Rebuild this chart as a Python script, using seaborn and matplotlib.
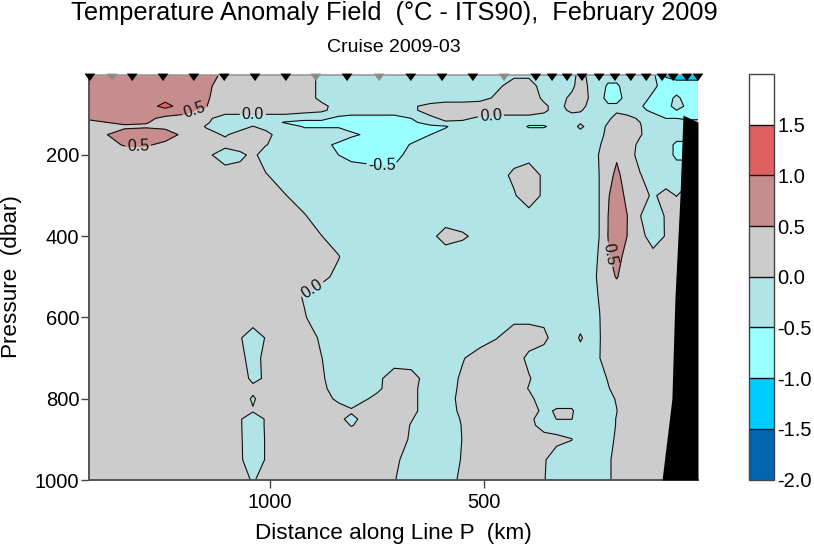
import matplotlib
matplotlib.use("Agg")
import matplotlib.pyplot as plt
import numpy as np
import pandas as pd
import seaborn as sns

distance_km = [1425,1380,1340,1290,1245,1200,1150,1105,1070,1040,
               1010,965,920,880,840,810,750,710,670,625,
               590,550,510,470,430,395,360,330,295,275,
               250,230,210,190,165,135,105,75,50,25,0]
pressure_dbar = [2,30,60,80,90,110,120,130,150,175,200,250,300,350,400,450,500,550,600,650,700,750,775,800,830,850,865,900,950,1000]

p002 = [7,7,7,7,7,7,7,4,2,2, 2,2,2,-1,-2,-2,-2,-2,-2,-2, -2,-2,-2,-2,-1,-1,-1,-2,-1,1, -1,-2,-2,-2,-2,-2,-4,-11,-12,-12,-12]
p030 = [7,7,7,7,7,7,7,1,2,2, 2,2,2,-1,-2,-2,-2,-2,-2,-2, -2,-2,-2,-1,2,2,-2,-2,-1,2, -1,-2,-6,-6,-2,-2,-4,-7,-8,-8,-8]
p060 = [7,7,7,7,8,7,6,1,2,2, 2,2,2,-1,-2,-2,-2,-2,-2,-2, -2,-2,-2,1,3,3,-1,-2,1,3, -1,-3,-7,-7,-3,-3,-6,-7,-4,-7,-7]
p080 = [7,7,7,7,12,7,5.2,2,2,2, 2,2,2,1,-1.5,-2,-2,-2,-0.5,1, 2,2,3,3,3,3,1,-2,2,2, -2,-2,-4,-4,-3,-4.5,-7,-7,-3,-6,-7]
p090 = [7,7,7,7,8,6,4,2,2,2, 2,2,2,1,-2,-2,-2,-2,-1,2, 3,3,3,3,3,3,1,-2,1,0.5, -2,-2,-3,-1,-3,-4,-6,-7,-5,-6,-6]
p110 = [5.5,6,6.5,6,4,4,1,-2,-2,-2, -2,-2,-4,-4,-6,-7,-7,-7,-5,-1, 1,1,-1,-2,-2,-2,-2,-2,-2,-2, -2,-2,-1,2,2,-1,-3,-5,-5,-6,-6]
p120 = [4,5,5.5,5.2,4,3,0.5,-2,-2,-1, -2,-5.5,-6,-6,-6,-7,-8,-8,-6,-3, -0.5,-1,-2,-2,-2,-3.5,-3.5,-2,-2,-0.5, -2,-2,0,3,3,0,-3,-3,-3,-3,-3]
p130 = [3,4,4.6,4.6,4,3,-0.2,-2,-1,0.1, -1,-2,-5.5,-5.5,-5.5,-7,-8,-8,-7,-6, -5.5,-2,-2,-2,-2,-5.5,-5.5,-3,-2,1, -2,-2,1,3,3,0.2,-2,-2,-2,-2,-2]
p150 = [2,5,6,7,7,4,1,-0.3,1,2, 1,-2,-2,-2,-2,-4,-7,-8,-7,-5, -3,-2,-2,-2,-2,-2,-2,-2,-2,-2, -2,-1,1,3,3,0.3,-2,-2,-3,-3,-3]
p175 = [2,3.5,5.4,5.5,4,2,2,1,2,2, 0.2,-2,-2,-3.5,-6,-8,-8,-7,-4.7,-2, -2,-2,-2,-2,-2,-2,-2,-2,-2,-2, -2,-0.3,2,3,2,-1,-2,-3,-6,-6,-3]
p200 = [2,2,2,2,2,2,1,-2,-1,1, -2,-2,-2,-2,-5,-6,-7,-7,-3,-2, -2,-2,-2,-2,-2,-2,-2,-2,-2,-2, -2,0.3,2,4.4,2,-1.5,-2,-3,-6,-6,-3]
p250 = [2,2,2,2,2,2,2,2,2,2, 0.3,-2,-2,-2,-2,-3,-3,-3,-2,-2, -2,-2,-2,-2,1,3,-1,-2,-2,-2, -2,0.1,3.5,6,3,0.2,-2,-2,-2,-2,-2]
p300 = [2,2,2,2,2,2,2,2,2,2, 2,0.2,-2,-2,-2,-2,-2,-2,-2,-2, -2,-2,-2,-2,-0.5,3,-1,-2,-2,-2, -2,0.1,4.7,7,4,1,-0.4,1,-0.1,2,2]
p350 = [2,2,2,2,2,2,2,2,2,2, 2,2,0.3,-2,-2,-2,-2,-2,-2,-2, -2,-2,-2,-2,-2,-2,-2,-2,-2,-2, -2,0.1,5,8,5,0.1,-3,0.5,2,2,2]
p400 = [2,2,2,2,2,2,2,2,2,2, 2,2,2,0.1,-2,-2,-2,-2,-2,-1, 1.5,0.5,-1,-2,-2,-2,-2,-2,-2,-2, -2,0.1,5.1,8,4.9,1,-1.5,0.2,2,2,2]
p450 = [2,2,2,2,2,2,2,2,2,2, 2,2,2,2,0.2,-2,-2,-2,-2,-2, -2,-2,-2,-2,-2,-2,-2,-2,-2,-2, -1,0.3,4.5,6.5,3.5,2,1,2,2,2,2]
p500 = [2,2,2,2,2,2,2,2,2,2, 2,2,2,1,-1,-2,-2,-2,-2,-2, -2,-2,-2,-2,-2,-2,-2,-2,-2,-2, -1,0.6,3,5.4,2,2,2,2,2,2,2]
p550 = [2,2,2,2,2,2,2,2,2,2, 2,2,-0.3,-2,-2,-2,-2,-2,-2,-2, -2,-2,-2,-2,-2,-2,-2,-2,-2,-2, -1,0.2,2,1.5,2,2,2,2,2,2,2]
p600 = [2,2,2,2,2,2,2,2,2,2, 2,2,0.3,-2,-2,-2,-2,-2,-2,-2, -2,-2,-2,-2,-1,-1,-1,-2,-2,-2, -1,-0.1,2,2,2,2,2,2,2,2,2]
p650 = [2,2,2,2,2,2,2,2,0.3,-2, 0.2,2,2,-0.6,-2,-2,-2,-2,-2,-2, -2,-2,-2,-0.1,2,2,1,-2,-2,0.5, -2,-0.2,2,2,2,2,2,2,2,2,2]
p700 = [2,2,2,2,2,2,2,2,1,-1.5, 1,2,2,0.1,-2,-2,-2,-2,-2,-2, -2,-0.3,2,2,2,-1,-2,-2,-2,-2, -1.5,-0.1,2,2,2,2,2,2,2,2,2]
p750 = [2,2,2,2,2,2,2,2,2,-1, 0.5,2,2,0.5,-2,-2,-1,2,1.5,-2, -2,0.7,2,2,2,0.3,-2,-2,-2,-2, -2,-1,0.2,2,2,2,2,2,2,2,2]
p775 = [2,2,2,2,2,2,2,2,2,1, 2,2,2,1,-2,-2,-0.8,2,1,-2, -2,1,2,2,2,-0.2,-2,-2,-2,-2, -2,-2,-0.2,1,2,2,2,2,2,2,2]
p800 = [2,2,2,2,2,2,2,2,2,-0.5, 2,2,2,2,-1,-2,1,2,1,-2, -2,1.5,2,2,2,1,-2,-2,-2,-2, -2,-2,-1,0.3,2,2,2,2,2,2,2]
p830 = [2,2,2,2,2,2,2,2,1,0.3, 1,2,2,2,2,0.5,2,2,1,-2, -2,1,2,2,2,2,-1,0.5,0.5,-2, -2,-2,-1,-0.1,2,2,2,2,2,2,2]
p850 = [2,2,2,2,2,2,2,2,0.3,-2, 0.3,2,2,2,0.8,-1,3,2,0.2,-2, -2,0.4,2,2,2,1,-2,0.1,0.1,-2, -2,-2,-1.5,0.2,2,2,2,2,2,2,2]
p865 = [2,2,2,2,2,2,2,2,0.3,-2, 0.3,2,2,2,1.5,-0.2,2,2,-0.2,-2, -2,0.2,2,2,2,1.5,-2,-2,-2,-2, -2,-2,-1.3,0.2,2,2,2,2,2,2,2]
p900 = [2,2,2,2,2,2,2,2,0.4,-2, 0.2,2,2,2,2,2,2,2,-0.5,-2, -2,0.1,2,2,2,2,2,1,0.1,-2, -2,-2,-1,0.5,2,2,2,2,2,2,2]
p950 = [2,2,2,2,2,2,2,2,0.5,-2, 0.2,2,2,2,2,2,2,1,-2,-2, -2,0.3,2,2,2,2,0.4,-2,-2,-2, -2,-2,-1,2,2,2,2,2,2,2,2]
p999 = [2,2,2,2,2,2,2,2,2,-0.5, 2,2,2,2,2,2,2,0.2,-2,-2, -2,1,2,2,2,2,0.2,-2,-2,-2, -2,-2,-1,2,2,2,2,2,2,2,2]
rows = [p002,p030,p060,p080,p090,p110,p120,p130,p150,p175,p200,p250,p300,p350,p400,p450,p500,p550,p600,p650,p700,p750,p775,p800,p830,p850,p865,p900,p950,p999]

levels = [-2.0,-1.5,-1.0,-0.5,0.0,0.5,1.0,1.5,2.0]
band_colors = ["#0066B2","#00CCFF","#99FFFF","#B0E4E6","#CCCCCC","#C78C8C","#E06060","#FFFFFF"]

bottom_km = [0,35,42,54,61,84]
bottom_p = [119,102,300,555,800,1000]

stations_used = [1421,1322,1250,1178,1107,1035,963,820,671,598,526,379,341,306,271,231,194,157,121,84,58,26,0]
stations_other = [1369,893,745,453]

label_km = [1175,1040,1308,738,484,911,208]
label_p = [94,92,175,222,102,514,445]

sns.set_theme(style="white")
plt.rcParams["font.family"] = ["Liberation Sans", "DejaVu Sans"]
plt.rcParams["axes.unicode_minus"] = False

W, H = 814, 548
fig = plt.figure(figsize=(W/100, H/100), dpi=100)
ax = fig.add_axes([89/W, (H-480)/H, 609/W, 405.5/H])

field = pd.DataFrame(np.array(rows)/10.0, index=pressure_dbar, columns=distance_km)
X, Y = np.meshgrid(field.columns.values, field.index.values)
cf = ax.contourf(X, Y, field.values, levels=levels, colors=band_colors)
cs = ax.contour(X, Y, field.values, levels=levels[1:-1], colors="#111111", linewidths=0.8,
                negative_linestyles="solid")
ax.set_xlim(1423, 0)
ax.set_ylim(1000, 2)
ax.clabel(cs, fmt="%.1f", fontsize=11.5,
          manual=list(zip(label_km, label_p)), inline=True, inline_spacing=2)
ax.fill_between(bottom_km, bottom_p, 1000, color="black", lw=0, zorder=3)

tri = [(-1,0.7),(1,0.7),(0,-0.7)]
sns.scatterplot(x=stations_used, y=[9]*len(stations_used), marker=tri, s=60, color="black",
                edgecolor="none", clip_on=False, zorder=5, ax=ax)
sns.scatterplot(x=stations_other, y=[9]*len(stations_other), marker=tri, s=60, color="#8C8C8C",
                edgecolor="none", clip_on=False, zorder=5, ax=ax)

ax.set_xlim(1423, 0)
ax.set_ylim(1000, 2)
ax.set_xticks([1000, 500]); ax.set_xticklabels(["1000", "500"])
ax.set_yticks([200, 400, 600, 800, 1000])
ax.tick_params(axis="both", which="major", bottom=True, left=True, length=6, width=1, color="#444444",
               labelsize=14.5, labelcolor="black", pad=1)
ax.tick_params(axis="x", pad=3)
ax.set_xlabel(""); ax.set_ylabel("")
sns.despine(ax=ax, right=True, top=False)
for s, c, w in (("left","#555555",1.4),("bottom","#555555",1.4),("top","#999999",1.2)):
    ax.spines[s].set_color(c); ax.spines[s].set_linewidth(w)

cax = fig.add_axes([749/W, (H-479.5)/H, 25/W, 405.5/H])
cb = fig.colorbar(cf, cax=cax, ticks=levels[:-1], format="%.1f", drawedges=True)
cb.dividers.set_color("#111111"); cb.dividers.set_linewidth(1)
cb.outline.set_edgecolor("#444444"); cb.outline.set_linewidth(1)
cax.tick_params(length=0, labelsize=14.5, labelcolor="black", pad=2.5)

fig.text(394.5/W, 1-13/H, "Temperature Anomaly Field  (°C - ITS90),  February 2009", ha="center", va="center", fontsize=18.3, color="black")
fig.text(394/W, 1-48/H, "Cruise 2009-03", ha="center", va="center", fontsize=14, color="black")
fig.text(393/W, 1-533/H, "Distance along Line P  (km)", ha="center", va="center", fontsize=16.2, color="black")
fig.text(12/W, 1-277/H, "Pressure  (dbar)", ha="center", va="center", rotation=90, fontsize=16.2, color="black")

fig.savefig("out.png", dpi=100)
